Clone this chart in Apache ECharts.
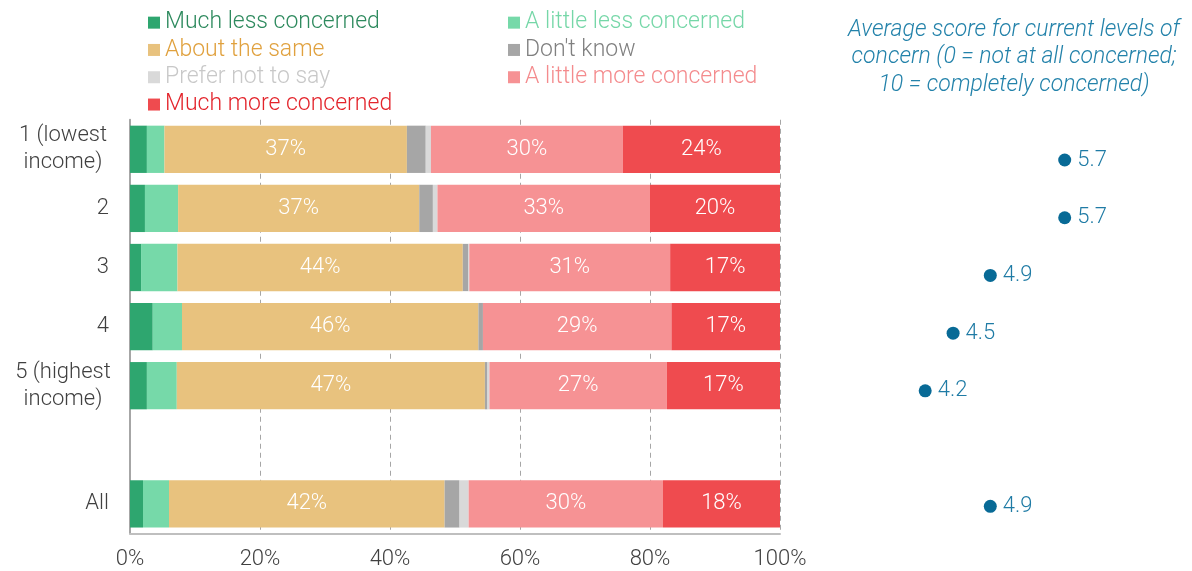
<!DOCTYPE html>
<html>
<head>
<meta charset="utf-8">
<script src="https://cdn.jsdelivr.net/npm/echarts@6/dist/echarts.min.js"></script>
<style>
html,body{margin:0;padding:0;background:#fff;}
#chart{width:1192px;height:571px;}
</style>
</head>
<body>
<div id="chart"></div>
<script>
// Categories (top to bottom); blank row separates "All"
const categories = ['1 (lowest\nincome)', '2', '3', '4', '5 (highest\nincome)', '', 'All'];

// Percent of respondents in each response group
const muchLess    = [2.6, 2.3, 1.7, 3.5, 2.6, null, 2.0];
const littleLess  = [2.7, 5.1, 5.6, 4.5, 4.6, null, 4.0];
const aboutSame   = [37.3, 37.1, 43.9, 45.6, 47.4, null, 42.4];
const dontKnow    = [2.9, 2.1, 0.8, 0.7, 0.4, null, 2.3];
const preferNot   = [0.8, 0.7, 0.2, 0.0, 0.3, null, 1.4];
const littleMore  = [29.5, 32.7, 30.9, 29.0, 27.3, null, 29.9];
const muchMore    = [24.2, 20.0, 16.9, 16.7, 17.4, null, 18.0];

// Average score for current levels of concern (0-10)
const avgScore    = [5.7, 5.7, 4.9, 4.5, 4.2, null, 4.9];

const seriesNames = ['Much less concerned', 'A little less concerned', 'About the same', "Don't know",
                     'Prefer not to say', 'A little more concerned', 'Much more concerned'];
const xTicks = [0, 20, 40, 60, 80, 100];

const FONT = 'Roboto, "Noto Sans", sans-serif';
const FS = 22;
const FW = 300;
const barColors  = ['#2ea66f', '#76d9a9', '#e8c27e', '#a6a6a6', '#d9d9d9', '#f69294', '#ef4b4f'];
const textColors = ['#2e8a5e', '#76d7a8', '#e0a13e', '#808080', '#c8c8c8', '#f48b8d', '#e3242b'];
const values = [muchLess, littleLess, aboutSame, dontKnow, preferNot, littleMore, muchMore];
const labelled = [false, false, true, false, false, true, true];

const chart = echarts.init(document.getElementById('chart'), null, {renderer: 'canvas'});

const barSeries = seriesNames.map((name, i) => ({
  name: name,
  type: 'bar',
  stack: 'total',
  xAxisIndex: 0,
  yAxisIndex: 0,
  barCategoryGap: '20%',
  itemStyle: {color: barColors[i]},
  emphasis: {disabled: true},
  data: values[i].map(v => v === null ? '-' : v),
  label: {
    show: labelled[i],
    position: 'inside',
    color: '#ffffff',
    fontSize: FS,
    fontWeight: FW,
    fontFamily: FONT,
    formatter: p => Math.round(p.value) + '%'
  }
}));

function legendItem(i) {
  return {name: seriesNames[i], textStyle: {color: textColors[i]}};
}

const legendText = {fontSize: 23, fontWeight: FW, lineHeight: 27.3, fontFamily: FONT};

const option = {
  animation: false,
  textStyle: {fontFamily: FONT},
  legend: [
    {
      left: 148, top: 9, orient: 'vertical', icon: 'rect', padding: 0,
      itemWidth: 12, itemHeight: 12, itemGap: 0,
      textStyle: legendText,
      data: [legendItem(0), legendItem(2), legendItem(4), legendItem(6)],
      selectedMode: false
    },
    {
      left: 508, top: 9, orient: 'vertical', icon: 'rect', padding: 0,
      itemWidth: 12, itemHeight: 12, itemGap: 0,
      textStyle: legendText,
      data: [legendItem(1), legendItem(3), legendItem(5)],
      selectedMode: false
    }
  ],
  graphic: [{
    type: 'text',
    x: 1014, y: 16,
    style: {
      text: 'Average score for current levels of\nconcern (0 = not at all concerned;\n10 = completely concerned)',
      align: 'center',
      font: 'italic 300 23px ' + FONT,
      lineHeight: 27.5,
      fill: '#2382aa'
    }
  }],
  grid: [
    {left: 130, width: 650, top: 119.75, height: 413.7, containLabel: false},
    {left: 813.6, width: 279, top: 131.15, height: 404, containLabel: false}
  ],
  xAxis: [
    {
      gridIndex: 0, type: 'value', min: xTicks[0], max: xTicks[xTicks.length - 1], interval: 20,
      axisLine: {show: true, lineStyle: {color: '#bfbfbf', width: 2}},
      axisTick: {show: false},
      axisLabel: {formatter: '{value}%', fontSize: FS, fontWeight: FW, color: '#404040', margin: 15, fontFamily: FONT},
      splitLine: {show: true, lineStyle: {color: '#a6a6a6', type: [5, 4], width: 1}}
    },
    {gridIndex: 1, type: 'value', min: 3, max: 6, show: false}
  ],
  yAxis: [
    {
      gridIndex: 0, type: 'category', inverse: true, data: categories,
      axisLine: {show: true, lineStyle: {color: '#a6a6a6', width: 2}},
      axisTick: {show: false},
      splitLine: {show: false},
      axisLabel: {
        fontSize: FS, fontWeight: FW, color: '#404040', margin: 21, lineHeight: 27, fontFamily: FONT,
        formatter: v => v.indexOf('\n') >= 0 ? v.split('\n').map(s => '{c|' + s + '}').join('\n') : v,
        rich: {c: {width: 92, align: 'center', fontSize: FS, fontWeight: FW, lineHeight: 27, color: '#404040', fontFamily: FONT}}
      }
    },
    {gridIndex: 1, type: 'category', inverse: true, data: categories, show: false}
  ],
  series: barSeries.concat([{
    name: 'Average score',
    type: 'scatter',
    xAxisIndex: 1,
    yAxisIndex: 1,
    symbolSize: 13,
    itemStyle: {color: '#086a96', opacity: 1},
    emphasis: {disabled: true},
    data: avgScore.map((v, i) => v === null ? null : [v, i]).filter(d => d !== null),
    label: {
      show: true, position: 'right', distance: 6,
      fontSize: FS, fontWeight: FW, color: '#1f7ba5', fontFamily: FONT,
      formatter: p => p.value[0].toFixed(1)
    }
  }])
};

chart.setOption(option);
</script>
</body>
</html>
